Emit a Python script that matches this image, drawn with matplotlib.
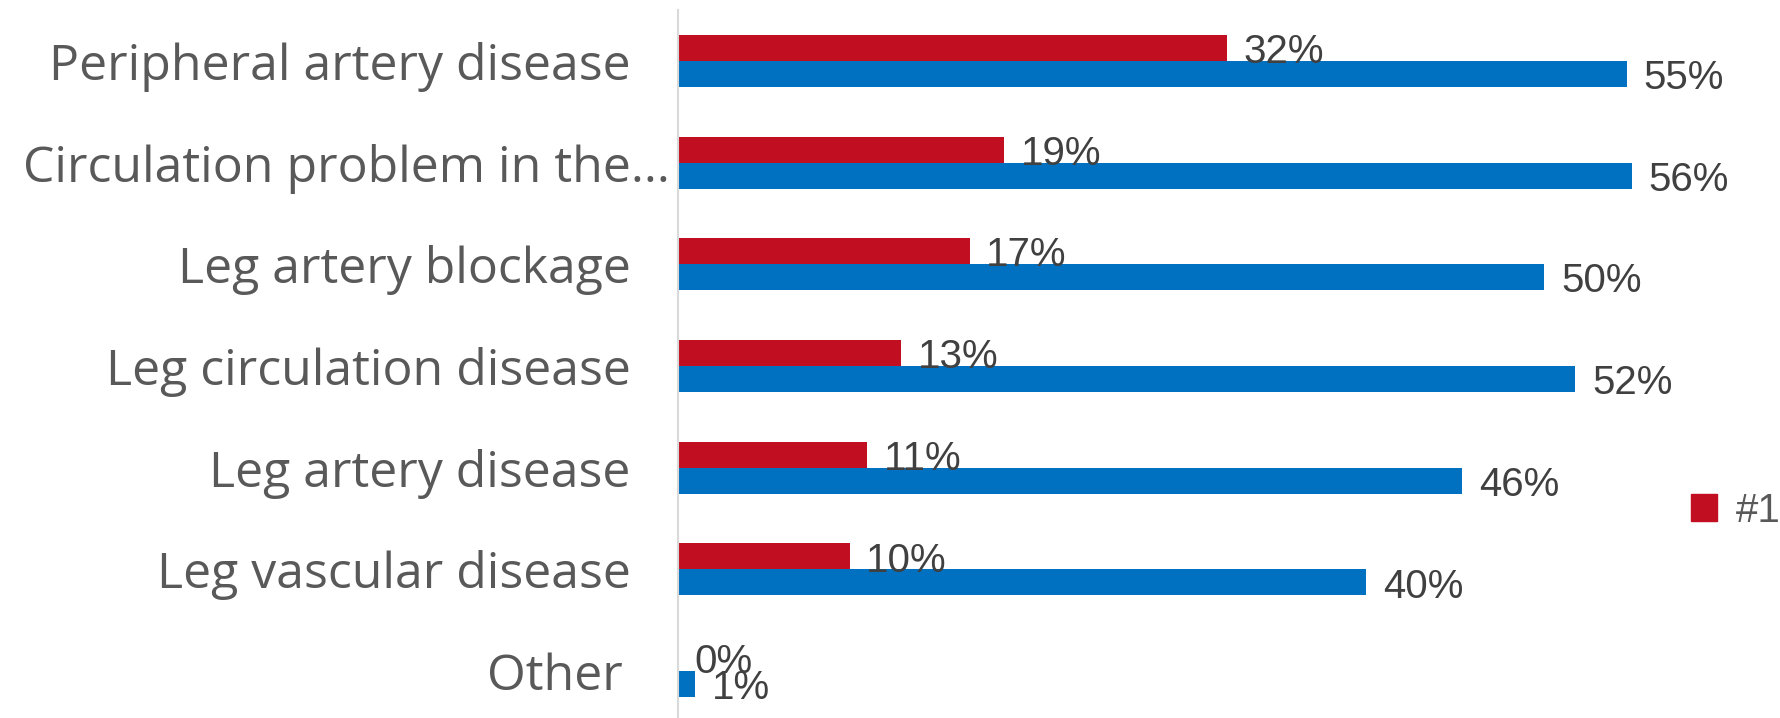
import matplotlib
matplotlib.use("Agg")
import matplotlib.pyplot as plt
from matplotlib.patches import Patch
import numpy as np

categories = ["Peripheral artery disease", "Circulation problem in the...",
              "Leg artery blockage", "Leg circulation disease",
              "Leg artery disease", "Leg vascular disease", "Other"]
first_choice = [32, 19, 17, 13, 11, 10, 0]
top_choice = [55.3, 55.6, 50.5, 52.3, 45.7, 40.1, 1]
legend_label = "#1"

RED = "#C10F21"
BLUE = "#0070C0"
W, H = 1780, 718
fig = plt.figure(figsize=(W / 100, H / 100), dpi=100)
ax = fig.add_axes([678 / W, -4 / H, 978 / W, 712 / H])

y = np.arange(len(categories))
bh = 0.256
ax.barh(y - bh / 2, first_choice, height=bh, color=RED)
ax.barh(y + bh / 2, top_choice, height=bh, color=BLUE)
ax.set_ylim(len(categories) - 0.5, -0.5)
ax.set_xlim(0, 57)

lab_font = dict(family=["Liberation Sans", "DejaVu Sans"], size=29, color="#404040")
for yi, v in zip(y - bh / 2, first_choice):
    ax.annotate(f"{v:.0f}%", (v, yi), xytext=(12, -3), textcoords="offset points",
                ha="left", va="center", **lab_font)
for yi, v in zip(y + bh / 2, top_choice):
    ax.annotate(f"{v:.0f}%", (v, yi), xytext=(12, -3), textcoords="offset points",
                ha="left", va="center", **lab_font)

ax.set_yticks(y)
ax.set_yticklabels(categories, family=["Open Sans", "DejaVu Sans"], size=36, color="#595959")
ax.tick_params(axis="y", length=0, pad=34)
ax.yaxis.get_major_ticks()[1].set_pad(6)
ax.yaxis.get_major_ticks()[6].set_pad(40)
ax.set_xticks([])
for s in ["top", "right", "bottom"]:
    ax.spines[s].set_visible(False)
ax.spines["left"].set_color("#D9D9D9")
ax.spines["left"].set_linewidth(1.5)

fig.legend(handles=[Patch(color=RED, label=legend_label)], loc="center left",
           bbox_to_anchor=(1691 / W, 1 - 511 / H), frameon=False, borderpad=0,
           borderaxespad=0, handlelength=0.65, handleheight=0.65, handletextpad=0.47,
           prop=dict(family="Liberation Sans", size=29), labelcolor="#595959")

fig.savefig("out.png", dpi=100)
